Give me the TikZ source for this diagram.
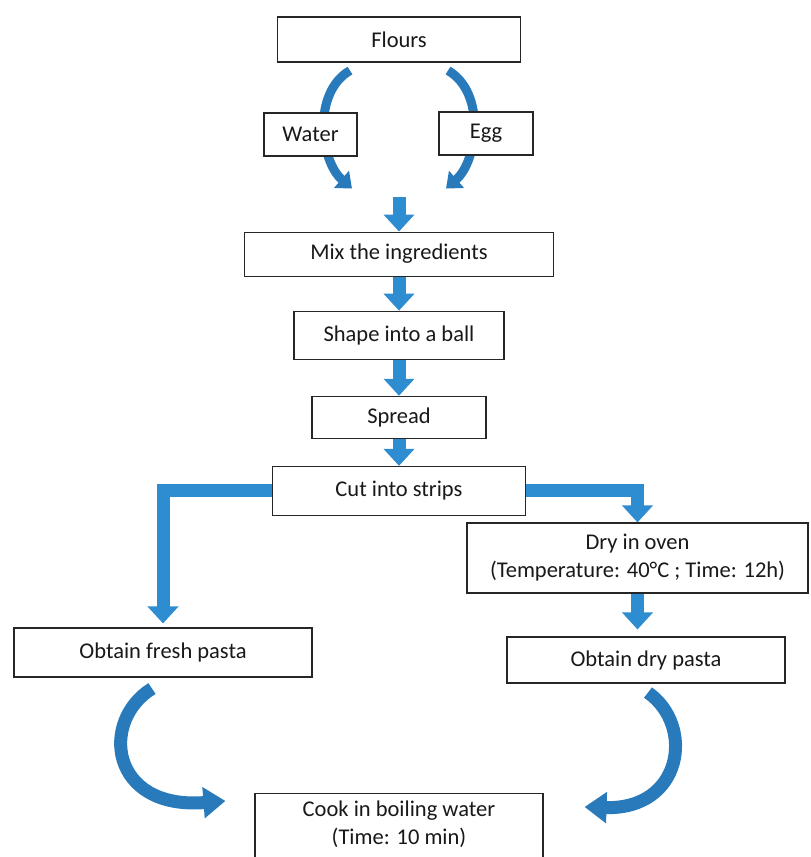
\documentclass[tikz,border=0pt]{standalone}
\usepackage{fontspec}
\setmainfont{Carlito}
\usetikzlibrary{positioning,arrows.meta,backgrounds}
\definecolor{flowblue}{RGB}{46,140,208}
\definecolor{curveblue}{RGB}{40,122,187}

\begin{document}
\begin{tikzpicture}[x=1pt, y=-1pt,
        every node/.style={draw=black!85, line width=1.1pt, fill=white, text=black!90, align=center, inner sep=2pt, font=\fontsize{22.5}{28}\selectfont},
        fat/.style={draw=flowblue, line width=13pt, -{Triangle[width=30pt,length=17pt]}},
        curvy/.style={draw=curveblue, line width=9pt, -{Triangle[width=22pt,length=14pt]}},
        bigcurvy/.style={draw=curveblue, line width=13pt, -{Triangle[width=30pt,length=22pt]}}]
            \useasboundingbox (0,0) rectangle (811,857);
            \clip (0,0) rectangle (811,857);

            \node (Flours) [minimum width=243pt, minimum height=45pt] at (399,39.5) {Flours};
            \node (Water) [minimum width=93pt, minimum height=43pt] at (310.5,134.5) {Water};
            \node (Egg) [minimum width=94pt, minimum height=43pt] at (486,133.5) {Egg};
            \node (Mix) [below=169pt of Flours, minimum width=309pt, minimum height=44pt] {Mix the ingredients};
            \node (Ball) [below=34pt of Mix, minimum width=210pt, minimum height=48pt] {Shape into a ball};
            \node (Spread) [below=36pt of Ball, minimum width=174pt, minimum height=42pt] {Spread};
            \node (Cut) [below=27pt of Spread, minimum width=253pt, minimum height=49pt] {Cut into strips};
            \node (Oven) [minimum width=341pt, minimum height=70pt] at (637.5,558) {Dry in oven\\(Temperature: 40°C ; Time: 12h)};
            \node (Dry) [minimum width=278pt, minimum height=46pt] at (646,660) {Obtain dry pasta};
            \node (Fresh) [minimum width=298pt, minimum height=49pt] at (163,652.5) {Obtain fresh pasta};
            \node (Cook) [below=277pt of Cut, minimum width=288pt, minimum height=72pt, text depth=14pt] {Cook in boiling water\\(Time: 10 min)};
            \coordinate (Join) at (399,197);

            \begin{scope}[on background layer]
            \draw[curvy] ([shift={(-49,8)}]Flours.south) .. controls +(-38,22) and +(-32,-28) .. ([shift={(-47,-43)}]Mix.north);
            \draw[curvy] ([shift={(49,8)}]Flours.south) .. controls +(38,22) and +(32,-28) .. ([shift={(47,-43)}]Mix.north);
            \draw[fat] (Join) -- (Mix);
            \draw[fat] (Mix) -- (Ball);
            \draw[fat] (Ball) -- (Spread);
            \draw[fat] (Spread) -- (Cut);
            \draw[fat, shorten >=4pt] (Cut.west) -| (Fresh.north);
            \draw[fat] (Cut.east) -| (Oven.north);
            \draw[fat, shorten >=7pt] (Oven.south) -- (Oven.south |- Dry.north);
            \draw[bigcurvy] ([shift={(-11,11)}]Fresh.south) .. controls +(-52,32) and +(-116,9) .. ([shift={(-29,8)}]Cook.north west);
            \draw[bigcurvy] ([shift={(2,9)}]Dry.south) .. controls +(47,33) and +(98,3) .. ([shift={(41,14)}]Cook.north east);
            \end{scope}
        \end{tikzpicture}
\end{document}
